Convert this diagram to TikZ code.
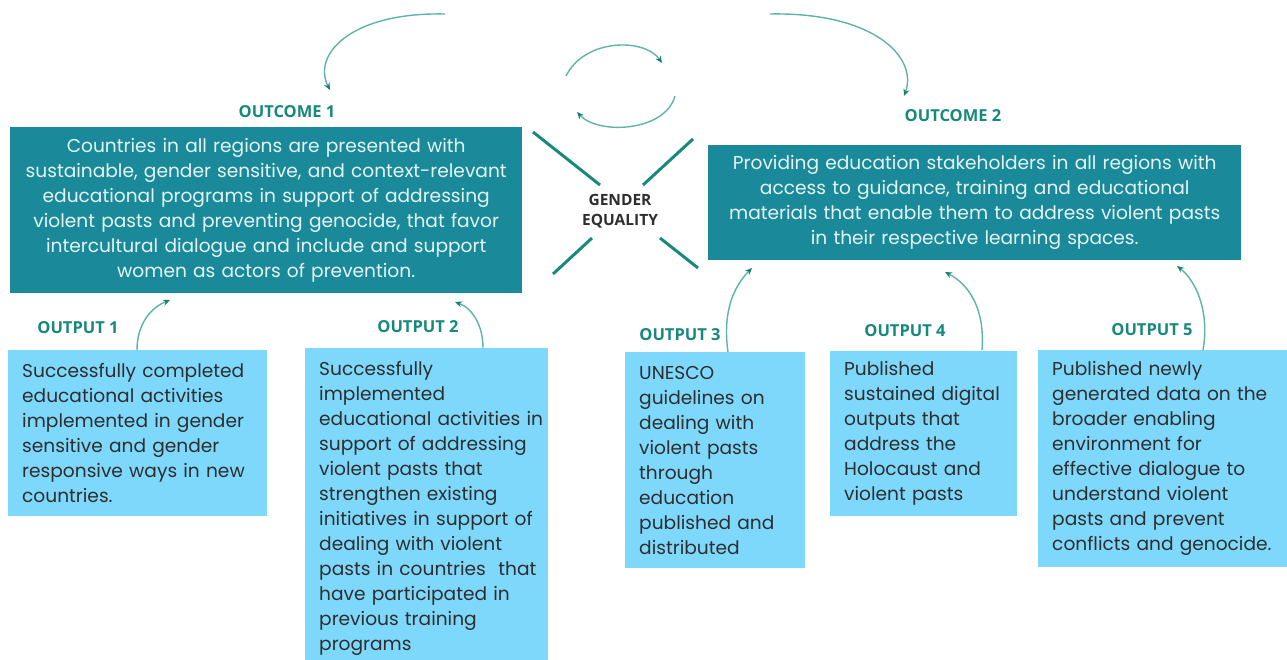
\documentclass[tikz,border=0pt]{standalone}
\usepackage{fontspec}
\setmainfont{Poppins}
\newfontfamily\lblfont{Open Sans}
\usetikzlibrary{arrows.meta}
\definecolor{tealbox}{HTML}{1A8A9A}
\definecolor{tealtxt}{HTML}{17887C}
\definecolor{arccol}{HTML}{5DB3AA}
\definecolor{tipcol}{HTML}{17806F}
\definecolor{lblue}{HTML}{7DD8FC}
\definecolor{boxtxt}{HTML}{E4F5F5}
\definecolor{darktxt}{HTML}{2E2E2E}
\definecolor{xline}{HTML}{178A7C}
\tikzset{
  outcomebox/.style={fill=tealbox, text=boxtxt, anchor=north west, align=center,
    inner xsep=4pt, inner ysep=0pt, font=\fontsize{18.6}{25}\selectfont},
  outputbox/.style={fill=lblue, text=darktxt, anchor=north west, align=left,
    inner xsep=14pt, inner ysep=0pt, font=\fontsize{18.6}{25}\selectfont},
  lbl/.style={text=tealtxt, font=\lblfont\bfseries\fontsize{16.5}{18}\selectfont},
  gelbl/.style={text=darktxt, align=center, font=\lblfont\bfseries\fontsize{15.5}{20}\selectfont},
  arcline/.style={draw=arccol, line width=1.4pt, -{Stealth[length=7pt,width=6pt,color=tipcol]}},
  xseg/.style={draw=xline, line width=3pt}
}
\begin{document}
\begin{tikzpicture}[x=1pt,y=-1pt]
\useasboundingbox (0,0) rectangle (1287,660);

% outcome boxes
\node[outcomebox, minimum width=512pt, minimum height=166pt, text width=504pt] (oc1) at (10,127)
  {Countries in all regions are presented with\\
   sustainable, gender sensitive, and context-relevant\\
   educational programs in support of addressing\\
   violent pasts and preventing genocide, that favor\\
   intercultural dialogue and include and support\\
   women as actors of prevention.};
\node[outcomebox, minimum width=533pt, minimum height=115pt, text width=525pt] (oc2) at (708,145)
  {Providing education stakeholders in all regions with\\
   access to guidance, training and educational\\
   materials that enable them to address violent pasts\\
   in their respective learning spaces.};

\node[lbl] (l1) at (287,112) {OUTCOME 1};
\node[lbl] (l2) at (953,116) {OUTCOME 2};

% gender equality
\node[gelbl] (ge) at (620,211) {GENDER\\EQUALITY};
\coordinate (xa1) at (533,132); \coordinate (xa2) at (600,185);
\coordinate (xb1) at (693,139); \coordinate (xb2) at (643,185);
\coordinate (xc1) at (592,238); \coordinate (xc2) at (553,274);
\coordinate (xd1) at (660,238); \coordinate (xd2) at (698,268);
\draw[xseg] (xa1) -- (xa2);
\draw[xseg] (xb1) -- (xb2);
\draw[xseg] (xc1) -- (xc2);
\draw[xseg] (xd1) -- (xd2);

% top arcs
\coordinate (t1s) at (445,14); \coordinate (t1e) at (330,90);
\coordinate (t2s) at (770,14); \coordinate (t2e) at (904,96);
\coordinate (c1s) at (566,76); \coordinate (c1e) at (662,63);
\coordinate (c2s) at (675,96); \coordinate (c2e) at (577,112);
\draw[arcline] (t1s) .. controls (350,12) and (312,55) .. (t1e);
\draw[arcline] (t2s) .. controls (875,12) and (918,58) .. (t2e);
\draw[arcline] (c1s) .. controls (585,38) and (645,38) .. (c1e);
\draw[arcline] (c2s) .. controls (665,132) and (598,135) .. (c2e);

% output boxes
\node[outputbox, minimum width=259pt, minimum height=166pt, text width=231pt] (op1) at (8,350)
  {\mbox{Successfully completed}\\\mbox{educational activities}\\\mbox{implemented in gender}\\\mbox{sensitive and gender}\\\mbox{responsive ways in new}\\countries.};
\node[outputbox, minimum width=243pt, minimum height=320pt, text width=215pt] (op2) at (305,348)
  {Successfully\\implemented\\\mbox{educational activities in}\\\mbox{support of addressing}\\violent pasts that\\\mbox{strengthen existing}\\\mbox{initiatives in support of}\\\mbox{dealing with violent}\\\mbox{pasts in countries\ \ that}\\\mbox{have participated in}\\\mbox{previous training}\\programs};
\node[outputbox, minimum width=180pt, minimum height=216pt, text width=152pt] (op3) at (625,352)
  {UNESCO\\\mbox{guidelines on}\\\mbox{dealing with}\\\mbox{violent pasts}\\through\\education\\\mbox{published and}\\distributed};
\node[outputbox, minimum width=187pt, minimum height=165pt, text width=159pt] (op4) at (830,351)
  {Published\\\mbox{sustained digital}\\\mbox{outputs that}\\\mbox{address the}\\\mbox{Holocaust and}\\\mbox{violent pasts}};
\node[outputbox, minimum width=249pt, minimum height=217pt, text width=221pt] (op5) at (1038,350)
  {\mbox{Published newly}\\\mbox{generated data on the}\\\mbox{broader enabling}\\\mbox{environment for}\\\mbox{effective dialogue to}\\\mbox{understand violent}\\\mbox{pasts and prevent}\\\mbox{conflicts and genocide.}};

\node[lbl] (p1) at (78,328) {OUTPUT 1};
\node[lbl] (p2) at (418,327) {OUTPUT 2};
\node[lbl] (p3) at (680,335) {OUTPUT 3};
\node[lbl] (p4) at (905,331) {OUTPUT 4};
\node[lbl] (p5) at (1152,330) {OUTPUT 5};

% output to outcome arrows
\coordinate (s1) at (137,350); \coordinate (e1) at (170,300);
\coordinate (s2) at (483,348); \coordinate (e2) at (455,302);
\coordinate (s3) at (728,352); \coordinate (e3) at (752,268);
\coordinate (s4) at (982,350); \coordinate (e4) at (945,272);
\coordinate (s5) at (1203,350); \coordinate (e5) at (1177,266);
\draw[arcline] (s1) .. controls (137,325) and (150,308) .. (e1);
\draw[arcline] (s2) .. controls (483,325) and (472,308) .. (e2);
\draw[arcline] (s3) .. controls (722,310) and (735,285) .. (e3);
\draw[arcline] (s4) .. controls (985,310) and (970,285) .. (e4);
\draw[arcline] (s5) .. controls (1210,310) and (1195,280) .. (e5);
\end{tikzpicture}
\end{document}
